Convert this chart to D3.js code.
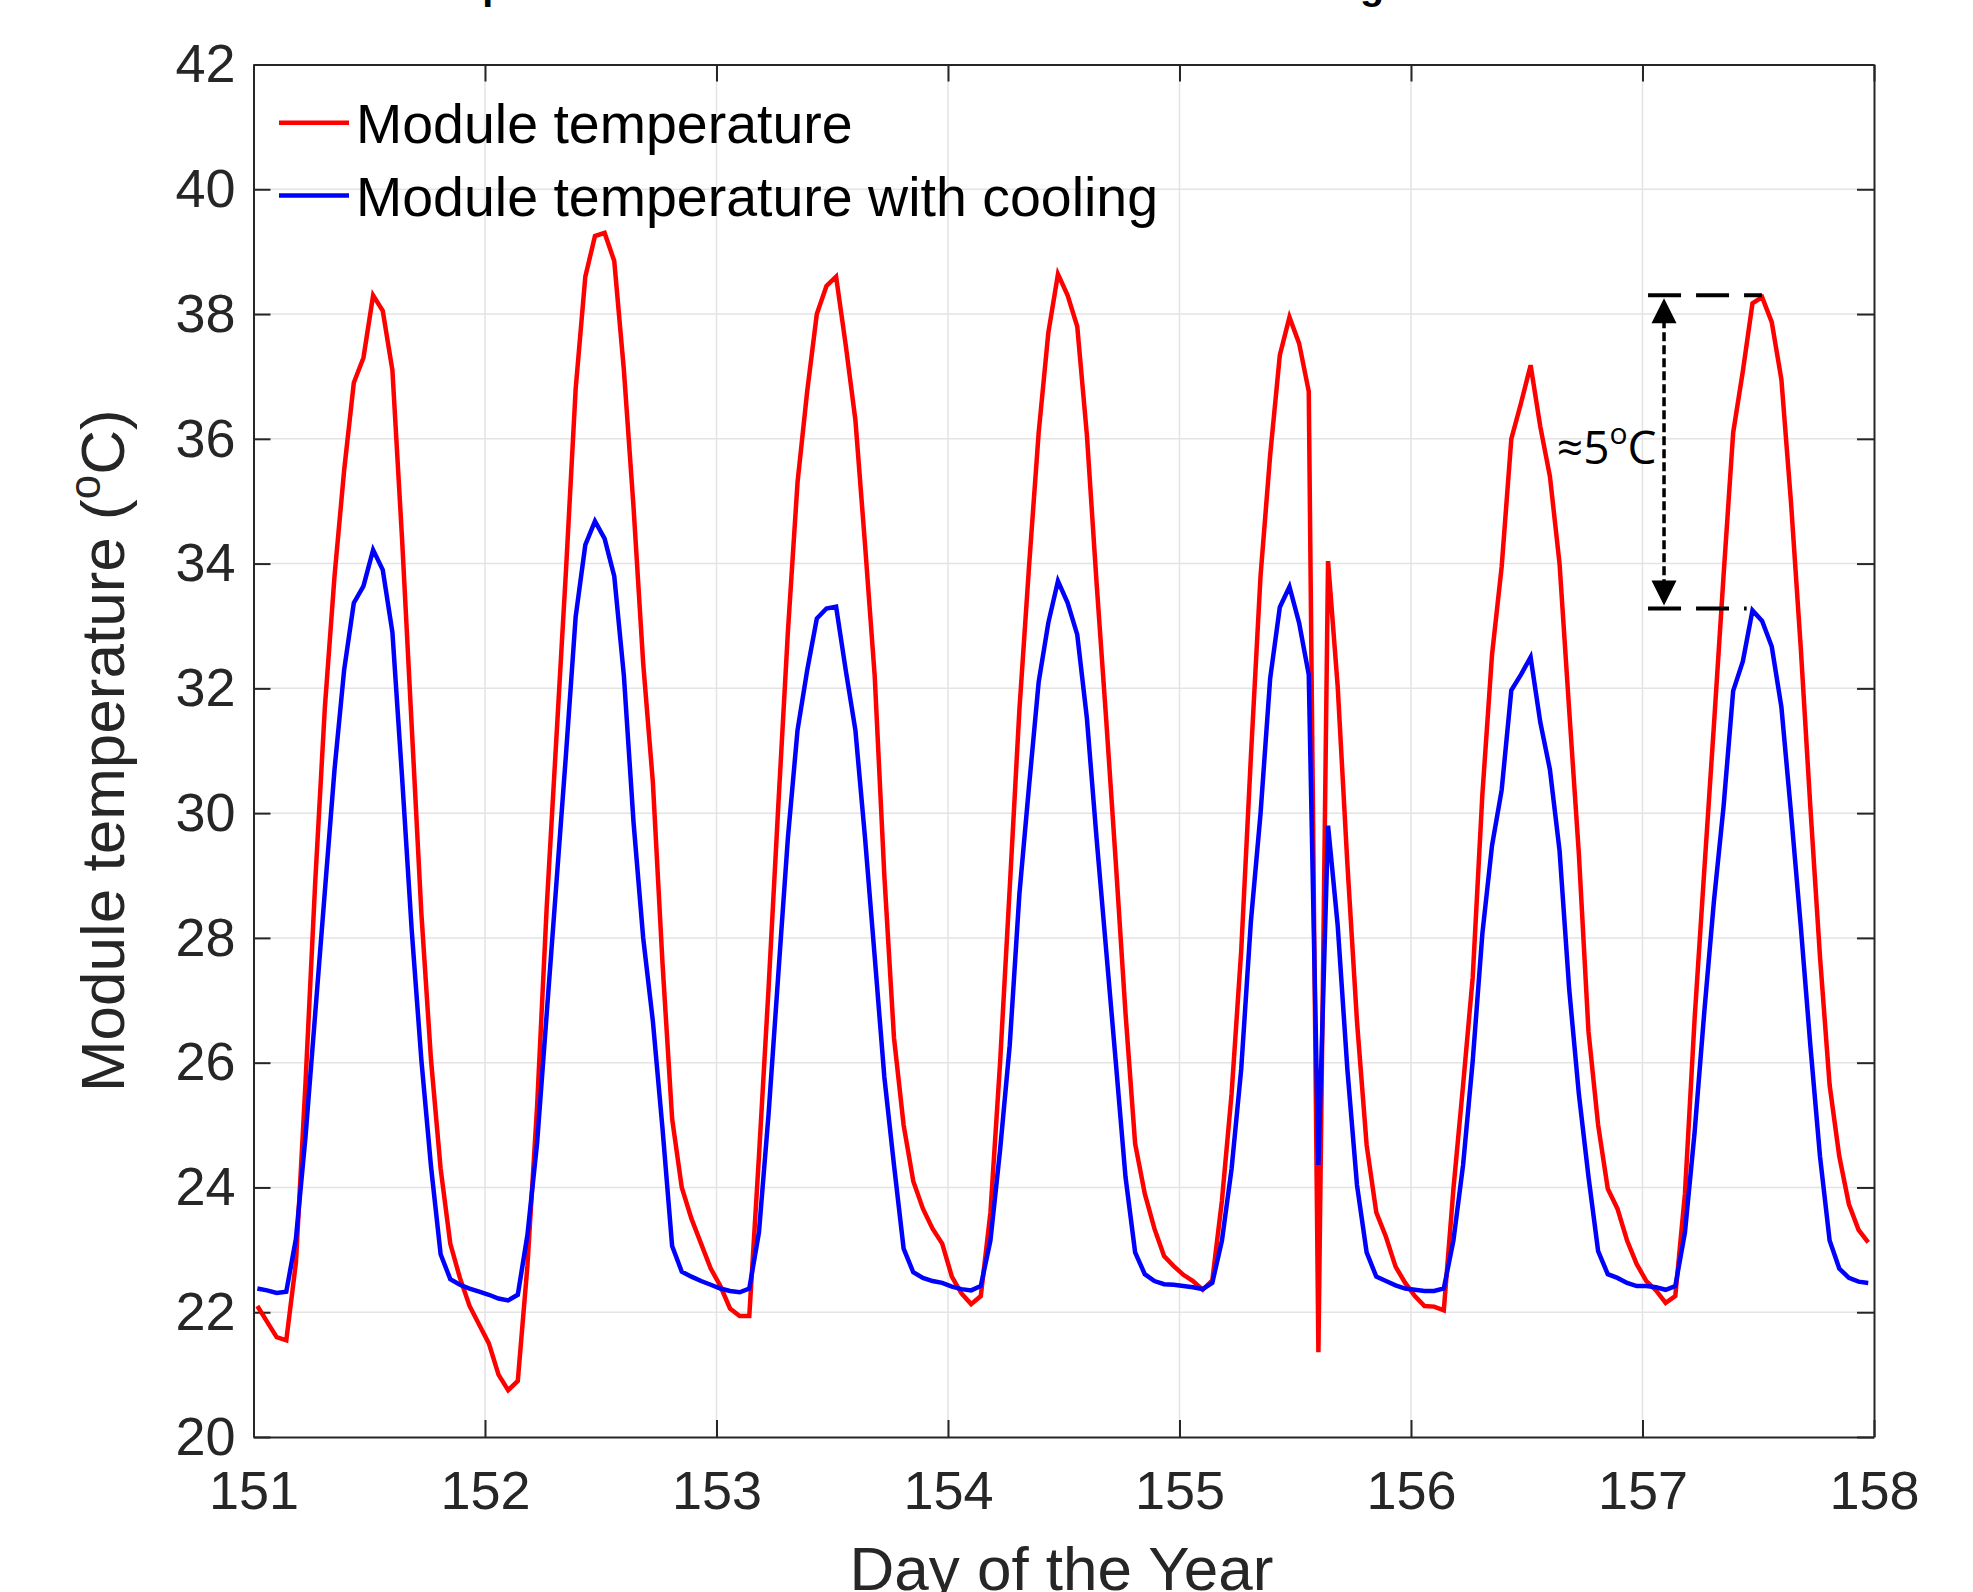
<!DOCTYPE html>
<html>
<head>
<meta charset="utf-8">
<script src="https://cdn.jsdelivr.net/npm/d3@7"></script>
<style>
    body { margin: 0; background: #fff; }
    text { font-family: "Liberation Sans", Arial, Helvetica, sans-serif; fill: #262626; }
</style>
</head>
<body>
<script>
// hourly samples, first one a bit after midnight of day 151
const startDay = 151;
const hourOffset = 0.4;

const moduleTemp = [
    22.1, 21.85, 21.6, 21.55, 22.8, 25.7, 28.9, 31.7, 33.8, 35.5, 36.9, 37.3,
    38.3, 38.05, 37.1, 34.4, 31.4, 28.4, 26.05, 24.3, 23.1, 22.55, 22.1, 21.8,
    21.5, 21.0, 20.75, 20.9, 22.75, 25.3, 28.5, 31.2, 33.9, 36.8, 38.6, 39.25,
    39.3, 38.85, 37.1, 34.9, 32.4, 30.5, 27.6, 25.1, 24.0, 23.5, 23.1, 22.7,
    22.42, 22.06, 21.94, 21.94, 24.5, 27.2, 30.1, 32.9, 35.3, 36.76, 38.0, 38.45,
    38.6, 37.5, 36.3, 34.3, 32.2, 29.0, 26.4, 25.0, 24.1, 23.66, 23.34, 23.1,
    22.57, 22.3, 22.13, 22.26, 23.6, 26.0, 28.8, 31.65, 33.95, 36.1, 37.7, 38.64,
    38.3, 37.8, 36.06, 33.7, 31.5, 29.2, 26.8, 24.7, 23.9, 23.34, 22.9, 22.74,
    22.6, 22.5, 22.36, 22.51, 23.79, 25.5, 27.8, 30.9, 33.8, 35.74, 37.34, 37.95,
    37.53, 36.76, 21.36, 34.04, 32.03, 29.2, 26.66, 24.68, 23.6, 23.21, 22.73, 22.47,
    22.26, 22.1, 22.09, 22.03, 23.98, 25.64, 27.37, 30.3, 32.54, 33.95, 36.0, 36.57,
    37.18, 36.2, 35.4, 34.0, 31.65, 29.35, 26.5, 25.0, 23.98, 23.66, 23.15, 22.77,
    22.5, 22.35, 22.15, 22.26, 23.9, 26.7, 29.07, 31.4, 33.8, 36.1, 37.08, 38.17,
    38.27, 37.87, 36.95, 34.97, 32.67, 30.1, 27.7, 25.64, 24.5, 23.73, 23.32, 23.12
];

const coolingTemp = [
    22.38, 22.35, 22.31, 22.33, 23.18, 24.83, 26.79, 28.75, 30.7, 32.3, 33.37, 33.64,
    34.22, 33.9, 32.9, 30.58, 28.13, 26.05, 24.34, 22.93, 22.53, 22.44, 22.38, 22.33,
    22.28, 22.22, 22.19, 22.28, 23.24, 24.71, 26.79, 28.87, 30.95, 33.15, 34.3, 34.68,
    34.4, 33.8, 32.2, 29.85, 28.0, 26.67, 24.95, 23.06, 22.65, 22.57, 22.5, 22.44,
    22.38, 22.34, 22.32, 22.38, 23.28, 25.18, 27.4, 29.6, 31.33, 32.29, 33.12, 33.28,
    33.31, 32.29, 31.33, 29.6, 27.7, 25.77, 24.36, 23.02, 22.64, 22.55, 22.5, 22.47,
    22.41, 22.37, 22.35, 22.42, 23.15, 24.6, 26.28, 28.7, 30.43, 32.1, 33.05, 33.72,
    33.37, 32.86, 31.52, 29.6, 27.8, 26.0, 24.17, 22.96, 22.61, 22.5, 22.45, 22.44,
    22.42, 22.4, 22.37, 22.47, 23.15, 24.3, 25.9, 28.26, 29.99, 32.16, 33.3, 33.63,
    33.05, 32.22, 24.36, 29.8, 28.2, 25.9, 24.04, 22.96, 22.57, 22.5, 22.43, 22.38,
    22.36, 22.34, 22.34, 22.38, 23.15, 24.36, 26.03, 28.07, 29.48, 30.37, 31.97, 32.22,
    32.5, 31.46, 30.7, 29.4, 27.18, 25.5, 24.17, 22.98, 22.61, 22.55, 22.47, 22.42,
    22.42, 22.4, 22.36, 22.42, 23.28, 24.88, 26.8, 28.58, 30.1, 31.96, 32.43, 33.25,
    33.08, 32.67, 31.7, 30.0, 28.2, 26.28, 24.5, 23.15, 22.7, 22.55, 22.49, 22.47
];

const xTicks = [151, 152, 153, 154, 155, 156, 157, 158];
const yTicks = [20, 22, 24, 26, 28, 30, 32, 34, 36, 38, 40, 42];
const seriesNames = ["Module temperature", "Module temperature with cooling"];
const seriesColors = ["#ff0000", "#0000ff"];

// the "~5 C" bracket: peak without cooling, peak with cooling, where it sits
const bracketTop = 38.3;
const bracketBottom = 33.28;
const bracketDay = [157.024, 157.093, 157.516, 157.45];

const W = 1973, H = 1592;
const margin = { top: 64.5, right: 99, bottom: 155, left: 253.5 };
const width = W - margin.left - margin.right,
    height = H - margin.top - margin.bottom;

const svg = d3.select("body")
    .append("svg")
    .attr("width", W)
    .attr("height", H);

svg.append("rect").attr("width", W).attr("height", H).attr("fill", "#fff");

const x = d3.scaleLinear().domain([151, 158]).range([margin.left, margin.left + width]);
const y = d3.scaleLinear().domain([20, 42]).range([margin.top + height, margin.top]);

// title mostly falls outside the figure, only descenders show
svg.append("text")
    .attr("x", 404)
    .attr("y", -1)
    .style("font-size", "39.5px")
    .style("font-weight", "bold")
    .style("fill", "#000")
    .text("Temperature of the module with and without cooling");

// grid
const grid = svg.append("g").attr("stroke", "#e3e3e3").attr("stroke-width", 1.5);
grid.selectAll(".gx")
    .data(xTicks.slice(1, -1))
    .join("line")
    .attr("x1", d => x(d)).attr("x2", d => x(d))
    .attr("y1", y(20)).attr("y2", y(42));
grid.selectAll(".gy")
    .data(yTicks.slice(1, -1))
    .join("line")
    .attr("x1", x(151)).attr("x2", x(158))
    .attr("y1", d => y(d)).attr("y2", d => y(d));

// axes, ticks pointing inside on all four sides
const tickLen = 17;
const bottomAxis = svg.append("g")
    .attr("transform", `translate(0,${y(20)})`)
    .call(d3.axisBottom(x).tickValues(xTicks).tickFormat(d3.format("d")).tickSizeInner(-tickLen).tickSizeOuter(0).tickPadding(tickLen + 17));
const topAxis = svg.append("g")
    .attr("transform", `translate(0,${y(42)})`)
    .call(d3.axisTop(x).tickValues(xTicks).tickFormat("").tickSizeInner(-tickLen).tickSizeOuter(0));
const leftAxis = svg.append("g")
    .attr("transform", `translate(${x(151)},0)`)
    .call(d3.axisLeft(y).tickValues(yTicks).tickFormat(d3.format("d")).tickSizeInner(-tickLen).tickSizeOuter(0).tickPadding(tickLen + 1));
const rightAxis = svg.append("g")
    .attr("transform", `translate(${x(158)},0)`)
    .call(d3.axisRight(y).tickValues(yTicks).tickFormat("").tickSizeInner(-tickLen).tickSizeOuter(0));

[bottomAxis, topAxis, leftAxis, rightAxis].forEach(a => {
    a.select(".domain").attr("stroke", "#262626").attr("stroke-width", 2);
    a.selectAll(".tick line").attr("stroke", "#262626").attr("stroke-width", 2);
    a.selectAll("text")
        .style("font-size", "54px")
        .style("font-family", '"Liberation Sans", Arial, sans-serif')
        .attr("fill", "#262626");
});
bottomAxis.selectAll("text").attr("dy", "0.71em");

// axis labels
svg.append("text")
    .attr("x", x(154.49))
    .attr("y", 1590)
    .attr("text-anchor", "middle")
    .style("font-size", "62px")
    .text("Day of the Year");

const yLabel = svg.append("text")
    .attr("transform", `translate(124,${y(31)}) rotate(-90)`)
    .attr("text-anchor", "middle")
    .style("font-size", "62px");
yLabel.append("tspan").text("Module temperature (");
yLabel.append("tspan").attr("baseline-shift", "super").style("font-size", "44px").text("o");
yLabel.append("tspan").text("C)");

// the two series
const line = d3.line()
    .x((d, i) => x(startDay + (i + hourOffset) / 24))
    .y(d => y(d));

const plot = svg.append("g");
[moduleTemp, coolingTemp].forEach((series, j) => {
    plot.append("path")
        .datum(series)
        .attr("fill", "none")
        .attr("stroke", seriesColors[j])
        .attr("stroke-width", 4.5)
        .attr("d", line);
});

// legend (no box)
const legend = svg.append("g");
seriesNames.forEach((name, i) => {
    const ly = 122.7 + i * 72.8;
    legend.append("line")
        .attr("x1", 279).attr("x2", 349)
        .attr("y1", ly).attr("y2", ly)
        .attr("stroke", seriesColors[i])
        .attr("stroke-width", 4.5);
    legend.append("text")
        .attr("x", 356)
        .attr("y", ly + 20.5)
        .style("font-size", "55.5px")
        .style("fill", "#000")
        .text(name);
});

// annotation: dashed guides + double arrow
const ann = svg.append("g").attr("stroke", "#000");
ann.append("line")
    .attr("x1", x(bracketDay[0])).attr("x2", x(bracketDay[2]))
    .attr("y1", y(bracketTop)).attr("y2", y(bracketTop))
    .attr("stroke-width", 4).attr("stroke-dasharray", "33,15");
ann.append("line")
    .attr("x1", x(bracketDay[0])).attr("x2", x(bracketDay[3]))
    .attr("y1", y(bracketBottom)).attr("y2", y(bracketBottom))
    .attr("stroke-width", 4).attr("stroke-dasharray", "33,15");

const ax = x(bracketDay[1]);
ann.append("line")
    .attr("x1", ax).attr("x2", ax)
    .attr("y1", y(bracketTop) + 24).attr("y2", y(bracketBottom) - 24)
    .attr("stroke-width", 3.5).attr("stroke-dasharray", "9,4");
ann.append("path")
    .attr("stroke", "none").attr("fill", "#000")
    .attr("d", `M${ax},${y(bracketTop) + 3}l-12.5,25h25z M${ax},${y(bracketBottom) - 3}l-12.5,-25h25z`);

const note = svg.append("text")
    .attr("x", x(156.63))
    .attr("y", y(35.6))
    .style("font-family", '"Open Sans", "Noto Sans", sans-serif')
    .style("font-size", "46px")
    .style("fill", "#000");
note.append("tspan").text("≈5");
note.append("tspan").attr("baseline-shift", "super").style("font-size", "30px").text("o");
note.append("tspan").text("C");
</script>
</body>
</html>
